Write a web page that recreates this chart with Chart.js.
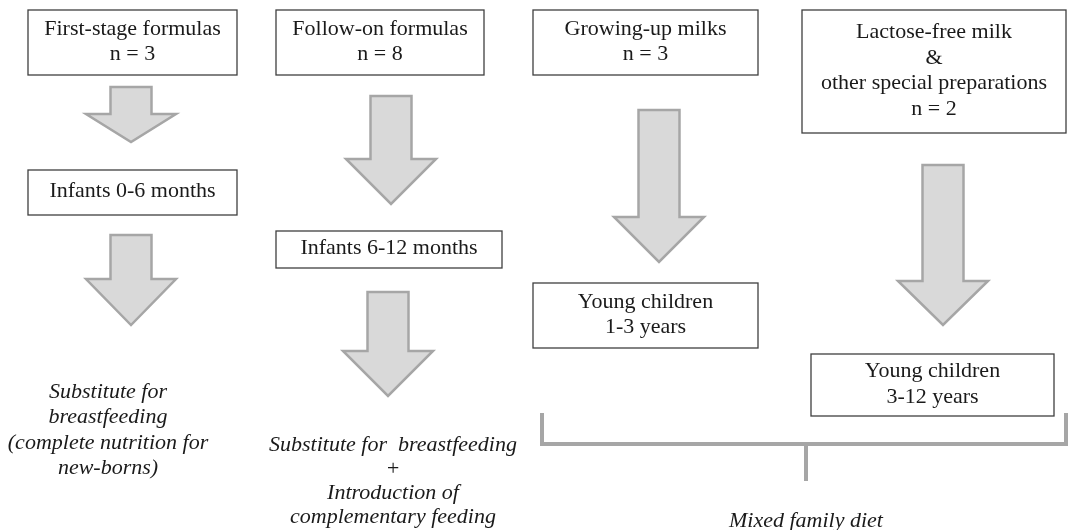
<!DOCTYPE html>
<html>
<head>
<meta charset="utf-8">
<script src="https://cdn.jsdelivr.net/npm/chart.js@4.4.1/dist/chart.umd.min.js"></script>
<style>
  html, body { margin: 0; padding: 0; background: #fff; }
  canvas { display: block; }
</style>
</head>
<body>
<canvas id="flow" width="1068" height="530"></canvas>
<script>
// Box labels (one array of lines per box)
const boxText = [
  ["First-stage formulas", "n = 3"],
  ["Follow-on formulas", "n = 8"],
  ["Growing-up milks", "n = 3"],
  ["Lactose-free milk", "&", "other special preparations", "n = 2"],
  ["Infants 0-6 months"],
  ["Infants 6-12 months"],
  ["Young children", "1-3 years"],
  ["Young children", "3-12 years"]
];

// Italic notes under the columns
const noteText = [
  ["Substitute for", "breastfeeding", "(complete nutrition for", "new-borns)"],
  ["Substitute for  breastfeeding", "+", "Introduction of", "complementary feeding"],
  ["Mixed family diet"]
];

// layout, in diagram units (x 0..1068, y 0..530 from the top)
const boxFrames = [
  [28, 10, 237, 75], [276, 10, 484, 75], [533, 10, 758, 75], [802, 10, 1066, 133],
  [28, 170, 237, 215], [276, 231, 502, 268], [533, 283, 758, 348], [811, 354, 1054, 416]
];
// arrows: centre x, shaft top, head start, tip
const arrowFrames = [
  [131, 87, 114, 142], [131, 235, 279, 325],
  [391, 96, 159, 204], [388, 292, 351, 396],
  [659, 110, 217, 262], [943, 165, 281, 325]
];
// notes: centre x, first line centre y, line step
const noteFrames = [[108, 392, 25.5], [393, 445, 24], [806, 521, 0]];

// bracket joining the last two columns
const bracketLine = [{x: 542, y: 413}, {x: 542, y: 444}, {x: 1066, y: 444}, {x: 1066, y: 413}];
const bracketStem = [{x: 806, y: 444}, {x: 806, y: 481}];

const flowPlugin = {
  id: 'flow',
  afterDatasetsDraw(chart) {
    const ctx = chart.ctx;
    const sx = v => chart.scales.x.getPixelForValue(v);
    const sy = v => chart.scales.y.getPixelForValue(v);
    ctx.save();

    // arrows
    arrowFrames.forEach(a => {
      const cx = a[0], shaft = 20.5, head = 45;
      ctx.beginPath();
      ctx.moveTo(sx(cx - shaft), sy(a[1]));
      ctx.lineTo(sx(cx + shaft), sy(a[1]));
      ctx.lineTo(sx(cx + shaft), sy(a[2]));
      ctx.lineTo(sx(cx + head), sy(a[2]));
      ctx.lineTo(sx(cx), sy(a[3]));
      ctx.lineTo(sx(cx - head), sy(a[2]));
      ctx.lineTo(sx(cx - shaft), sy(a[2]));
      ctx.closePath();
      ctx.fillStyle = '#d9d9d9';
      ctx.fill();
      ctx.lineWidth = 2.5;
      ctx.strokeStyle = '#a6a6a6';
      ctx.lineJoin = 'miter';
      ctx.stroke();
    });

    // boxes
    ctx.font = '22px "Liberation Serif", "Times New Roman", serif';
    ctx.textAlign = 'center';
    ctx.textBaseline = 'middle';
    boxFrames.forEach((b, i) => {
      const x0 = sx(b[0]), y0 = sy(b[1]), x1 = sx(b[2]), y1 = sy(b[3]);
      ctx.fillStyle = '#fff';
      ctx.fillRect(x0, y0, x1 - x0, y1 - y0);
      ctx.lineWidth = 1.3;
      ctx.strokeStyle = '#3f3f3f';
      ctx.strokeRect(x0, y0, x1 - x0, y1 - y0);
      const lines = boxText[i];
      const step = 25.5;
      const cy = (y0 + y1) / 2 - 1;
      ctx.fillStyle = '#1a1a1a';
      lines.forEach((t, j) => {
        ctx.fillText(t, (x0 + x1) / 2, cy + (j - (lines.length - 1) / 2) * step);
      });
    });

    // notes
    ctx.font = 'italic 22px "Liberation Serif", serif';
    ctx.fillStyle = '#1a1a1a';
    noteFrames.forEach((n, i) => {
      noteText[i].forEach((t, j) => {
        ctx.fillText(t, sx(n[0]), sy(n[1] + j * n[2]));
      });
    });
    ctx.restore();
  }
};

new Chart(document.getElementById('flow'), {
  type: 'scatter',
  data: {
    datasets: [
      { data: bracketLine, showLine: true, borderColor: '#a6a6a6', borderWidth: 4, pointRadius: 0, fill: false, tension: 0 },
      { data: bracketStem, showLine: true, borderColor: '#a6a6a6', borderWidth: 4, pointRadius: 0, fill: false, tension: 0 }
    ]
  },
  options: {
    responsive: false,
    animation: false,
    devicePixelRatio: 1,
    layout: { padding: 0 },
    plugins: { legend: { display: false }, tooltip: { enabled: false } },
    scales: {
      x: { type: 'linear', min: 0, max: 1068, display: false },
      y: { type: 'linear', min: 0, max: 530, reverse: true, display: false }
    }
  },
  plugins: [flowPlugin]
});
</script>
</body>
</html>
